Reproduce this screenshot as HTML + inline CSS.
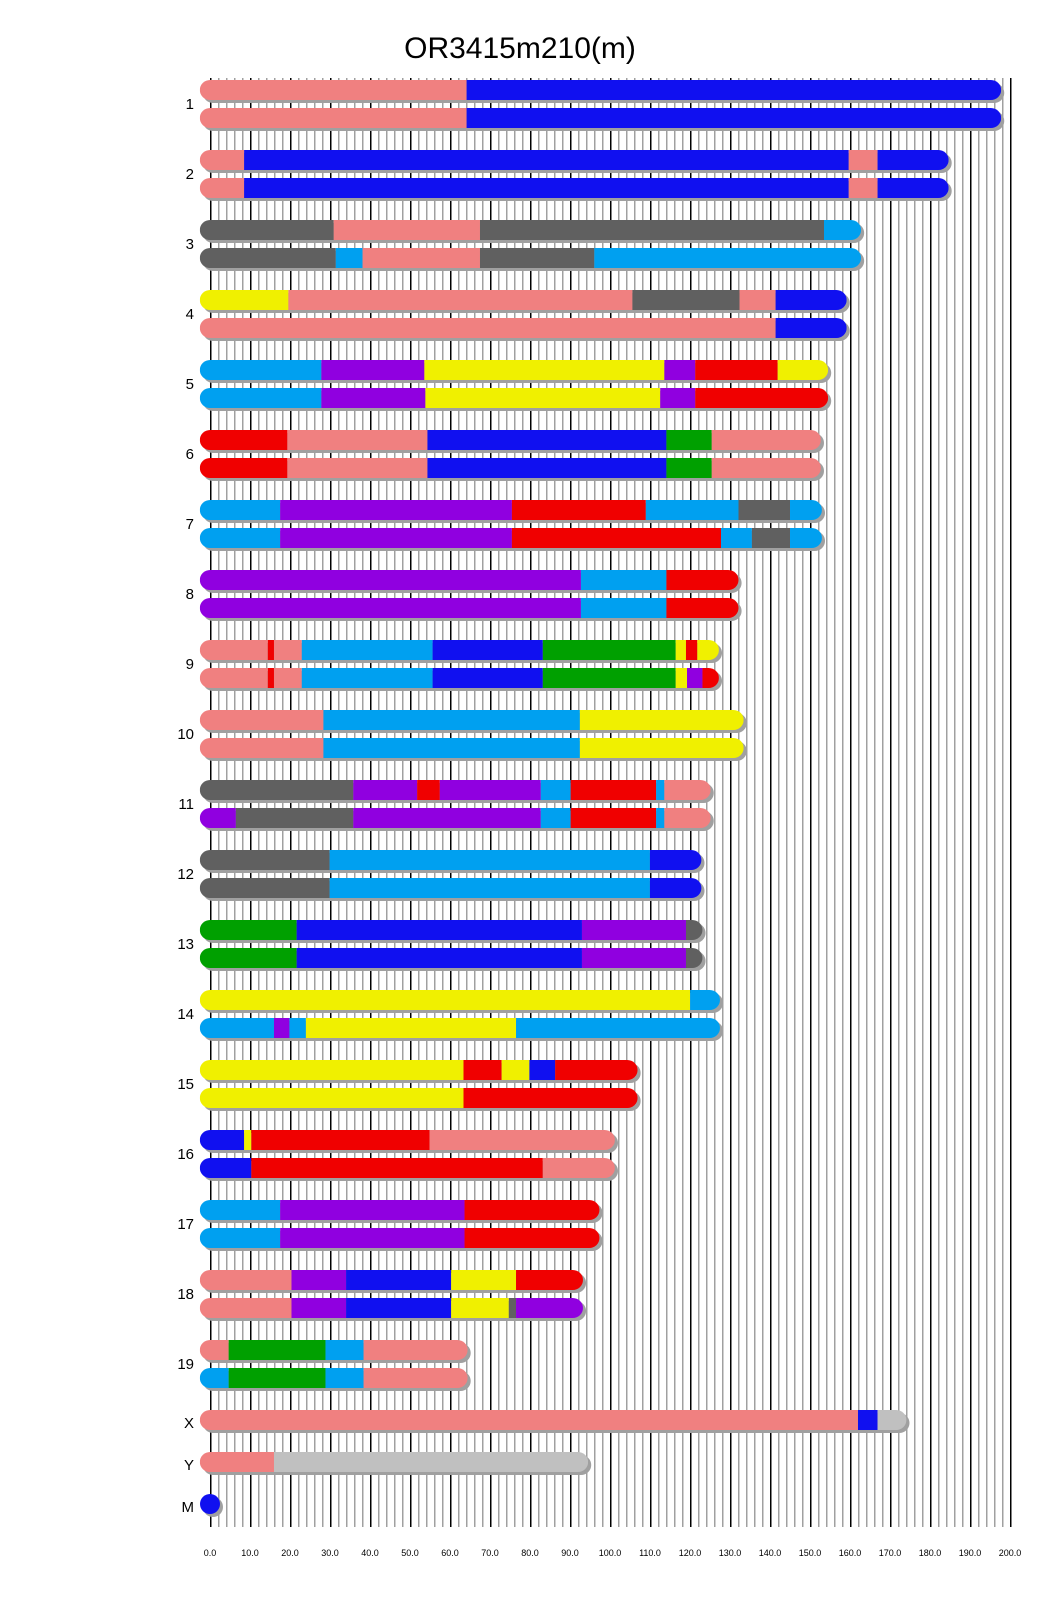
<!DOCTYPE html>
<html><head><meta charset="utf-8"><style>
html,body{margin:0;padding:0;background:#fff}
svg{display:block}
.s{fill:#f08080}.b{fill:#1010f0}.g{fill:#606060}.l{fill:#00a0f0}.y{fill:#f0f000}.p{fill:#9000e0}.r{fill:#f00000}.n{fill:#00a000}.k{fill:#c0c0c0}
.sh{fill:#a0a0a0}
text{font-family:"Liberation Sans",Arial,sans-serif;fill:#000}
</style></head><body>
<svg width="1040" height="1616" viewBox="0 0 1040 1616" xmlns="http://www.w3.org/2000/svg">
<defs>
<pattern id="gp" x="210" y="0" width="40" height="10" patternUnits="userSpaceOnUse">
<rect x="0" y="0" width="1.5" height="10" fill="#000"/>
<rect x="8" y="0" width="1.5" height="10" fill="#a0a0a0"/>
<rect x="16" y="0" width="1.5" height="10" fill="#a0a0a0"/>
<rect x="24" y="0" width="1.5" height="10" fill="#a0a0a0"/>
<rect x="32" y="0" width="1.5" height="10" fill="#a0a0a0"/>
</pattern>
</defs>
<text x="520" y="58" font-size="30" text-anchor="middle">OR3415m210(m)</text>
<rect x="209.5" y="78" width="802" height="1449" fill="url(#gp)"/>
<g font-size="9" text-anchor="middle">
<text x="210" y="1556">0.0</text><text x="250" y="1556">10.0</text><text x="290" y="1556">20.0</text><text x="330" y="1556">30.0</text><text x="370" y="1556">40.0</text><text x="410" y="1556">50.0</text><text x="450" y="1556">60.0</text><text x="490" y="1556">70.0</text><text x="530" y="1556">80.0</text><text x="570" y="1556">90.0</text><text x="610" y="1556">100.0</text><text x="650" y="1556">110.0</text><text x="690" y="1556">120.0</text><text x="730" y="1556">130.0</text><text x="770" y="1556">140.0</text><text x="810" y="1556">150.0</text><text x="850" y="1556">160.0</text><text x="890" y="1556">170.0</text><text x="930" y="1556">180.0</text><text x="970" y="1556">190.0</text><text x="1010" y="1556">200.0</text>
</g>
<g font-size="15" text-anchor="end">
<text x="194" y="109">1</text><text x="194" y="179">2</text><text x="194" y="249">3</text><text x="194" y="319">4</text><text x="194" y="389">5</text><text x="194" y="459">6</text><text x="194" y="529">7</text><text x="194" y="599">8</text><text x="194" y="669">9</text><text x="194" y="739">10</text><text x="194" y="809">11</text><text x="194" y="879">12</text><text x="194" y="949">13</text><text x="194" y="1019">14</text><text x="194" y="1089">15</text><text x="194" y="1159">16</text><text x="194" y="1229">17</text><text x="194" y="1299">18</text><text x="194" y="1369">19</text><text x="194" y="1428">X</text><text x="194" y="1470">Y</text><text x="194" y="1512">M</text>
</g>
<g transform="scale(1.03,1)">
<defs>
<clipPath id="c1a"><rect x="194" y="80" width="778" height="20" rx="10" ry="10"/></clipPath>
<clipPath id="c1b"><rect x="194" y="108" width="778" height="20" rx="10" ry="10"/></clipPath>
<clipPath id="c2a"><rect x="194" y="150" width="727" height="20" rx="10" ry="10"/></clipPath>
<clipPath id="c2b"><rect x="194" y="178" width="727" height="20" rx="10" ry="10"/></clipPath>
<clipPath id="c3a"><rect x="194" y="220" width="642" height="20" rx="10" ry="10"/></clipPath>
<clipPath id="c3b"><rect x="194" y="248" width="642" height="20" rx="10" ry="10"/></clipPath>
<clipPath id="c4a"><rect x="194" y="290" width="628" height="20" rx="10" ry="10"/></clipPath>
<clipPath id="c4b"><rect x="194" y="318" width="628" height="20" rx="10" ry="10"/></clipPath>
<clipPath id="c5a"><rect x="194" y="360" width="610" height="20" rx="10" ry="10"/></clipPath>
<clipPath id="c5b"><rect x="194" y="388" width="610" height="20" rx="10" ry="10"/></clipPath>
<clipPath id="c6a"><rect x="194" y="430" width="603" height="20" rx="10" ry="10"/></clipPath>
<clipPath id="c6b"><rect x="194" y="458" width="603" height="20" rx="10" ry="10"/></clipPath>
<clipPath id="c7a"><rect x="194" y="500" width="604" height="20" rx="10" ry="10"/></clipPath>
<clipPath id="c7b"><rect x="194" y="528" width="604" height="20" rx="10" ry="10"/></clipPath>
<clipPath id="c8a"><rect x="194" y="570" width="523" height="20" rx="10" ry="10"/></clipPath>
<clipPath id="c8b"><rect x="194" y="598" width="523" height="20" rx="10" ry="10"/></clipPath>
<clipPath id="c9a"><rect x="194" y="640" width="504" height="20" rx="10" ry="10"/></clipPath>
<clipPath id="c9b"><rect x="194" y="668" width="504" height="20" rx="10" ry="10"/></clipPath>
<clipPath id="c10a"><rect x="194" y="710" width="528" height="20" rx="10" ry="10"/></clipPath>
<clipPath id="c10b"><rect x="194" y="738" width="528" height="20" rx="10" ry="10"/></clipPath>
<clipPath id="c11a"><rect x="194" y="780" width="496" height="20" rx="10" ry="10"/></clipPath>
<clipPath id="c11b"><rect x="194" y="808" width="496" height="20" rx="10" ry="10"/></clipPath>
<clipPath id="c12a"><rect x="194" y="850" width="487" height="20" rx="10" ry="10"/></clipPath>
<clipPath id="c12b"><rect x="194" y="878" width="487" height="20" rx="10" ry="10"/></clipPath>
<clipPath id="c13a"><rect x="194" y="920" width="488" height="20" rx="10" ry="10"/></clipPath>
<clipPath id="c13b"><rect x="194" y="948" width="488" height="20" rx="10" ry="10"/></clipPath>
<clipPath id="c14a"><rect x="194" y="990" width="505" height="20" rx="10" ry="10"/></clipPath>
<clipPath id="c14b"><rect x="194" y="1018" width="505" height="20" rx="10" ry="10"/></clipPath>
<clipPath id="c15a"><rect x="194" y="1060" width="425" height="20" rx="10" ry="10"/></clipPath>
<clipPath id="c15b"><rect x="194" y="1088" width="425" height="20" rx="10" ry="10"/></clipPath>
<clipPath id="c16a"><rect x="194" y="1130" width="403" height="20" rx="10" ry="10"/></clipPath>
<clipPath id="c16b"><rect x="194" y="1158" width="403" height="20" rx="10" ry="10"/></clipPath>
<clipPath id="c17a"><rect x="194" y="1200" width="388" height="20" rx="10" ry="10"/></clipPath>
<clipPath id="c17b"><rect x="194" y="1228" width="388" height="20" rx="10" ry="10"/></clipPath>
<clipPath id="c18a"><rect x="194" y="1270" width="372" height="20" rx="10" ry="10"/></clipPath>
<clipPath id="c18b"><rect x="194" y="1298" width="372" height="20" rx="10" ry="10"/></clipPath>
<clipPath id="c19a"><rect x="194" y="1340" width="260" height="20" rx="10" ry="10"/></clipPath>
<clipPath id="c19b"><rect x="194" y="1368" width="260" height="20" rx="10" ry="10"/></clipPath>
<clipPath id="cX"><rect x="194" y="1410" width="686" height="20" rx="10" ry="10"/></clipPath>
<clipPath id="cY"><rect x="194" y="1452" width="377" height="20" rx="10" ry="10"/></clipPath>
</defs>
<g class="sh">
<rect x="197" y="83" width="778" height="20" rx="10"/><rect x="197" y="111" width="778" height="20" rx="10"/>
<rect x="197" y="153" width="727" height="20" rx="10"/><rect x="197" y="181" width="727" height="20" rx="10"/>
<rect x="197" y="223" width="642" height="20" rx="10"/><rect x="197" y="251" width="642" height="20" rx="10"/>
<rect x="197" y="293" width="628" height="20" rx="10"/><rect x="197" y="321" width="628" height="20" rx="10"/>
<rect x="197" y="363" width="610" height="20" rx="10"/><rect x="197" y="391" width="610" height="20" rx="10"/>
<rect x="197" y="433" width="603" height="20" rx="10"/><rect x="197" y="461" width="603" height="20" rx="10"/>
<rect x="197" y="503" width="604" height="20" rx="10"/><rect x="197" y="531" width="604" height="20" rx="10"/>
<rect x="197" y="573" width="523" height="20" rx="10"/><rect x="197" y="601" width="523" height="20" rx="10"/>
<rect x="197" y="643" width="504" height="20" rx="10"/><rect x="197" y="671" width="504" height="20" rx="10"/>
<rect x="197" y="713" width="528" height="20" rx="10"/><rect x="197" y="741" width="528" height="20" rx="10"/>
<rect x="197" y="783" width="496" height="20" rx="10"/><rect x="197" y="811" width="496" height="20" rx="10"/>
<rect x="197" y="853" width="487" height="20" rx="10"/><rect x="197" y="881" width="487" height="20" rx="10"/>
<rect x="197" y="923" width="488" height="20" rx="10"/><rect x="197" y="951" width="488" height="20" rx="10"/>
<rect x="197" y="993" width="505" height="20" rx="10"/><rect x="197" y="1021" width="505" height="20" rx="10"/>
<rect x="197" y="1063" width="425" height="20" rx="10"/><rect x="197" y="1091" width="425" height="20" rx="10"/>
<rect x="197" y="1133" width="403" height="20" rx="10"/><rect x="197" y="1161" width="403" height="20" rx="10"/>
<rect x="197" y="1203" width="388" height="20" rx="10"/><rect x="197" y="1231" width="388" height="20" rx="10"/>
<rect x="197" y="1273" width="372" height="20" rx="10"/><rect x="197" y="1301" width="372" height="20" rx="10"/>
<rect x="197" y="1343" width="260" height="20" rx="10"/><rect x="197" y="1371" width="260" height="20" rx="10"/>
<rect x="197" y="1413" width="686" height="20" rx="10"/><rect x="197" y="1455" width="377" height="20" rx="10"/>
</g>
<g clip-path="url(#c1a)"><rect class="s" x="194" y="80" width="259" height="20"/><rect class="b" x="453" y="80" width="519" height="20"/></g>
<g clip-path="url(#c1b)"><rect class="s" x="194" y="108" width="259" height="20"/><rect class="b" x="453" y="108" width="519" height="20"/></g>
<g clip-path="url(#c2a)"><rect class="s" x="194" y="150" width="43" height="20"/><rect class="b" x="237" y="150" width="587" height="20"/><rect class="s" x="824" y="150" width="28" height="20"/><rect class="b" x="852" y="150" width="69" height="20"/></g>
<g clip-path="url(#c2b)"><rect class="s" x="194" y="178" width="43" height="20"/><rect class="b" x="237" y="178" width="587" height="20"/><rect class="s" x="824" y="178" width="28" height="20"/><rect class="b" x="852" y="178" width="69" height="20"/></g>
<g clip-path="url(#c3a)"><rect class="g" x="194" y="220" width="130" height="20"/><rect class="s" x="324" y="220" width="142" height="20"/><rect class="g" x="466" y="220" width="334" height="20"/><rect class="l" x="800" y="220" width="36" height="20"/></g>
<g clip-path="url(#c3b)"><rect class="g" x="194" y="248" width="132" height="20"/><rect class="l" x="326" y="248" width="26" height="20"/><rect class="s" x="352" y="248" width="114" height="20"/><rect class="g" x="466" y="248" width="111" height="20"/><rect class="l" x="577" y="248" width="259" height="20"/></g>
<g clip-path="url(#c4a)"><rect class="y" x="194" y="290" width="86" height="20"/><rect class="s" x="280" y="290" width="334" height="20"/><rect class="g" x="614" y="290" width="104" height="20"/><rect class="s" x="718" y="290" width="35" height="20"/><rect class="b" x="753" y="290" width="69" height="20"/></g>
<g clip-path="url(#c4b)"><rect class="s" x="194" y="318" width="559" height="20"/><rect class="b" x="753" y="318" width="69" height="20"/></g>
<g clip-path="url(#c5a)"><rect class="l" x="194" y="360" width="118" height="20"/><rect class="p" x="312" y="360" width="100" height="20"/><rect class="y" x="412" y="360" width="233" height="20"/><rect class="p" x="645" y="360" width="30" height="20"/><rect class="r" x="675" y="360" width="80" height="20"/><rect class="y" x="755" y="360" width="49" height="20"/></g>
<g clip-path="url(#c5b)"><rect class="l" x="194" y="388" width="118" height="20"/><rect class="p" x="312" y="388" width="101" height="20"/><rect class="y" x="413" y="388" width="228" height="20"/><rect class="p" x="641" y="388" width="34" height="20"/><rect class="r" x="675" y="388" width="129" height="20"/></g>
<g clip-path="url(#c6a)"><rect class="r" x="194" y="430" width="85" height="20"/><rect class="s" x="279" y="430" width="136" height="20"/><rect class="b" x="415" y="430" width="232" height="20"/><rect class="n" x="647" y="430" width="44" height="20"/><rect class="s" x="691" y="430" width="106" height="20"/></g>
<g clip-path="url(#c6b)"><rect class="r" x="194" y="458" width="85" height="20"/><rect class="s" x="279" y="458" width="136" height="20"/><rect class="b" x="415" y="458" width="232" height="20"/><rect class="n" x="647" y="458" width="44" height="20"/><rect class="s" x="691" y="458" width="106" height="20"/></g>
<g clip-path="url(#c7a)"><rect class="l" x="194" y="500" width="78" height="20"/><rect class="p" x="272" y="500" width="225" height="20"/><rect class="r" x="497" y="500" width="130" height="20"/><rect class="l" x="627" y="500" width="90" height="20"/><rect class="g" x="717" y="500" width="50" height="20"/><rect class="l" x="767" y="500" width="31" height="20"/></g>
<g clip-path="url(#c7b)"><rect class="l" x="194" y="528" width="78" height="20"/><rect class="p" x="272" y="528" width="225" height="20"/><rect class="r" x="497" y="528" width="203" height="20"/><rect class="l" x="700" y="528" width="30" height="20"/><rect class="g" x="730" y="528" width="37" height="20"/><rect class="l" x="767" y="528" width="31" height="20"/></g>
<g clip-path="url(#c8a)"><rect class="p" x="194" y="570" width="370" height="20"/><rect class="l" x="564" y="570" width="83" height="20"/><rect class="r" x="647" y="570" width="70" height="20"/></g>
<g clip-path="url(#c8b)"><rect class="p" x="194" y="598" width="370" height="20"/><rect class="l" x="564" y="598" width="83" height="20"/><rect class="r" x="647" y="598" width="70" height="20"/></g>
<g clip-path="url(#c9a)"><rect class="s" x="194" y="640" width="66" height="20"/><rect class="r" x="260" y="640" width="6" height="20"/><rect class="s" x="266" y="640" width="27" height="20"/><rect class="l" x="293" y="640" width="127" height="20"/><rect class="b" x="420" y="640" width="107" height="20"/><rect class="n" x="527" y="640" width="129" height="20"/><rect class="y" x="656" y="640" width="10" height="20"/><rect class="r" x="666" y="640" width="11" height="20"/><rect class="y" x="677" y="640" width="21" height="20"/></g>
<g clip-path="url(#c9b)"><rect class="s" x="194" y="668" width="66" height="20"/><rect class="r" x="260" y="668" width="6" height="20"/><rect class="s" x="266" y="668" width="27" height="20"/><rect class="l" x="293" y="668" width="127" height="20"/><rect class="b" x="420" y="668" width="107" height="20"/><rect class="n" x="527" y="668" width="129" height="20"/><rect class="y" x="656" y="668" width="11" height="20"/><rect class="p" x="667" y="668" width="15" height="20"/><rect class="r" x="682" y="668" width="16" height="20"/></g>
<g clip-path="url(#c10a)"><rect class="s" x="194" y="710" width="120" height="20"/><rect class="l" x="314" y="710" width="249" height="20"/><rect class="y" x="563" y="710" width="159" height="20"/></g>
<g clip-path="url(#c10b)"><rect class="s" x="194" y="738" width="120" height="20"/><rect class="l" x="314" y="738" width="249" height="20"/><rect class="y" x="563" y="738" width="159" height="20"/></g>
<g clip-path="url(#c11a)"><rect class="g" x="194" y="780" width="149" height="20"/><rect class="p" x="343" y="780" width="62" height="20"/><rect class="r" x="405" y="780" width="22" height="20"/><rect class="p" x="427" y="780" width="98" height="20"/><rect class="l" x="525" y="780" width="29" height="20"/><rect class="r" x="554" y="780" width="83" height="20"/><rect class="l" x="637" y="780" width="8" height="20"/><rect class="s" x="645" y="780" width="45" height="20"/></g>
<g clip-path="url(#c11b)"><rect class="p" x="194" y="808" width="35" height="20"/><rect class="g" x="229" y="808" width="114" height="20"/><rect class="p" x="343" y="808" width="182" height="20"/><rect class="l" x="525" y="808" width="29" height="20"/><rect class="r" x="554" y="808" width="83" height="20"/><rect class="l" x="637" y="808" width="8" height="20"/><rect class="s" x="645" y="808" width="45" height="20"/></g>
<g clip-path="url(#c12a)"><rect class="g" x="194" y="850" width="126" height="20"/><rect class="l" x="320" y="850" width="311" height="20"/><rect class="b" x="631" y="850" width="50" height="20"/></g>
<g clip-path="url(#c12b)"><rect class="g" x="194" y="878" width="126" height="20"/><rect class="l" x="320" y="878" width="311" height="20"/><rect class="b" x="631" y="878" width="50" height="20"/></g>
<g clip-path="url(#c13a)"><rect class="n" x="194" y="920" width="94" height="20"/><rect class="b" x="288" y="920" width="277" height="20"/><rect class="p" x="565" y="920" width="101" height="20"/><rect class="g" x="666" y="920" width="16" height="20"/></g>
<g clip-path="url(#c13b)"><rect class="n" x="194" y="948" width="94" height="20"/><rect class="b" x="288" y="948" width="277" height="20"/><rect class="p" x="565" y="948" width="101" height="20"/><rect class="g" x="666" y="948" width="16" height="20"/></g>
<g clip-path="url(#c14a)"><rect class="y" x="194" y="990" width="476" height="20"/><rect class="l" x="670" y="990" width="29" height="20"/></g>
<g clip-path="url(#c14b)"><rect class="l" x="194" y="1018" width="72" height="20"/><rect class="p" x="266" y="1018" width="15" height="20"/><rect class="l" x="281" y="1018" width="16" height="20"/><rect class="y" x="297" y="1018" width="204" height="20"/><rect class="l" x="501" y="1018" width="198" height="20"/></g>
<g clip-path="url(#c15a)"><rect class="y" x="194" y="1060" width="256" height="20"/><rect class="r" x="450" y="1060" width="37" height="20"/><rect class="y" x="487" y="1060" width="27" height="20"/><rect class="b" x="514" y="1060" width="25" height="20"/><rect class="r" x="539" y="1060" width="80" height="20"/></g>
<g clip-path="url(#c15b)"><rect class="y" x="194" y="1088" width="256" height="20"/><rect class="r" x="450" y="1088" width="169" height="20"/></g>
<g clip-path="url(#c16a)"><rect class="b" x="194" y="1130" width="43" height="20"/><rect class="y" x="237" y="1130" width="7" height="20"/><rect class="r" x="244" y="1130" width="173" height="20"/><rect class="s" x="417" y="1130" width="180" height="20"/></g>
<g clip-path="url(#c16b)"><rect class="b" x="194" y="1158" width="50" height="20"/><rect class="r" x="244" y="1158" width="283" height="20"/><rect class="s" x="527" y="1158" width="70" height="20"/></g>
<g clip-path="url(#c17a)"><rect class="l" x="194" y="1200" width="78" height="20"/><rect class="p" x="272" y="1200" width="179" height="20"/><rect class="r" x="451" y="1200" width="131" height="20"/></g>
<g clip-path="url(#c17b)"><rect class="l" x="194" y="1228" width="78" height="20"/><rect class="p" x="272" y="1228" width="179" height="20"/><rect class="r" x="451" y="1228" width="131" height="20"/></g>
<g clip-path="url(#c18a)"><rect class="s" x="194" y="1270" width="89" height="20"/><rect class="p" x="283" y="1270" width="53" height="20"/><rect class="b" x="336" y="1270" width="102" height="20"/><rect class="y" x="438" y="1270" width="63" height="20"/><rect class="r" x="501" y="1270" width="65" height="20"/></g>
<g clip-path="url(#c18b)"><rect class="s" x="194" y="1298" width="89" height="20"/><rect class="p" x="283" y="1298" width="53" height="20"/><rect class="b" x="336" y="1298" width="102" height="20"/><rect class="y" x="438" y="1298" width="56" height="20"/><rect class="g" x="494" y="1298" width="7" height="20"/><rect class="p" x="501" y="1298" width="65" height="20"/></g>
<g clip-path="url(#c19a)"><rect class="s" x="194" y="1340" width="28" height="20"/><rect class="n" x="222" y="1340" width="94" height="20"/><rect class="l" x="316" y="1340" width="37" height="20"/><rect class="s" x="353" y="1340" width="101" height="20"/></g>
<g clip-path="url(#c19b)"><rect class="l" x="194" y="1368" width="28" height="20"/><rect class="n" x="222" y="1368" width="94" height="20"/><rect class="l" x="316" y="1368" width="37" height="20"/><rect class="s" x="353" y="1368" width="101" height="20"/></g>
<g clip-path="url(#cX)"><rect class="s" x="194" y="1410" width="639" height="20"/><rect class="b" x="833" y="1410" width="19" height="20"/><rect class="k" x="852" y="1410" width="28" height="20"/></g>
<g clip-path="url(#cY)"><rect class="s" x="194" y="1452" width="72" height="20"/><rect class="k" x="266" y="1452" width="305" height="20"/></g>
</g>
<circle cx="213" cy="1507" r="10" class="sh"/>
<circle cx="210" cy="1504" r="10" class="b"/>
</svg>
</body></html>
